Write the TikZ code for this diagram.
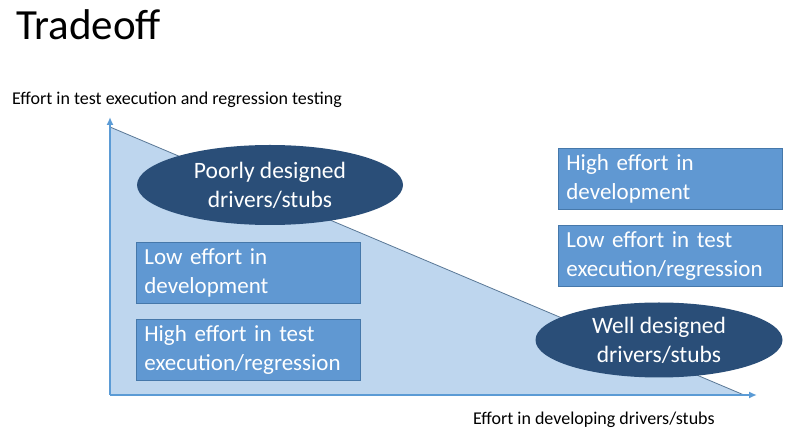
\documentclass[tikz,border=0pt]{standalone}
\usepackage{fontspec}
\setmainfont{Carlito}
\usetikzlibrary{shapes.geometric,arrows.meta}
\definecolor{axisblue}{RGB}{91,155,213}
\definecolor{trifill}{RGB}{190,214,238}
\definecolor{triedge}{RGB}{90,120,150}
\definecolor{boxfill}{RGB}{96,152,210}
\definecolor{boxedge}{RGB}{70,120,170}
\definecolor{ellfill}{RGB}{42,78,120}
\tikzset{
  effbox/.style={draw=boxedge, line width=0.8pt, fill=boxfill, text=white, align=left, anchor=north west,
    minimum width=224pt, minimum height=61pt, inner xsep=8pt, inner ysep=0pt, text width=208pt,
    font=\fontsize{23}{29}\selectfont},
  design/.style={ellipse, fill=ellfill, text=white, align=center, inner sep=0pt,
    font=\fontsize{23.5}{29}\selectfont},
  axislabel/.style={font=\fontsize{18}{20}\selectfont, anchor=west, inner sep=0pt},
  axisline/.style={draw=axisblue, line width=2pt, -{Latex[length=8pt,width=7pt]}}
}
\begin{document}
\begin{tikzpicture}[x=1pt,y=-1pt]
\useasboundingbox (0,0) rectangle (796,443);
\node[anchor=west, inner sep=0pt, font=\fontsize{43}{46}\selectfont] (title) at (16,25) {Tradeoff};
\node[axislabel] (ylab) at (12,100) {Effort in test execution and regression testing};
\node[axislabel] (xlab) at (473,420) {Effort in developing drivers/stubs};
\coordinate (o) at (110,395);
\coordinate (top) at (110,127);
\coordinate (tend) at (744,395);
\coordinate (ytip) at (110,117);
\coordinate (xtip) at (757,395);
\fill[trifill] (top) -- (o) -- (tend) -- cycle;
\draw[triedge, line width=0.8pt] (top) -- (tend);
\draw[axisline] (o) -- (ytip);
\draw[axisline] (o) -- (xtip);
\node[design, minimum width=266pt, minimum height=80pt] (poor) at (270,185) {Poorly designed\\drivers/stubs};
\node[design, minimum width=247pt, minimum height=75pt] (well) at (659,340) {Well designed\\drivers/stubs};
\node[effbox] (lowdev) at (136,242) {Low effort in\\development};
\node[effbox] (hightest) at (136,319) {High effort in test\\execution/regression};
\node[effbox] (highdev) at (558,148) {High effort in\\development};
\node[effbox] (lowtest) at (558,225) {Low effort in test\\execution/regression};
\end{tikzpicture}
\end{document}
